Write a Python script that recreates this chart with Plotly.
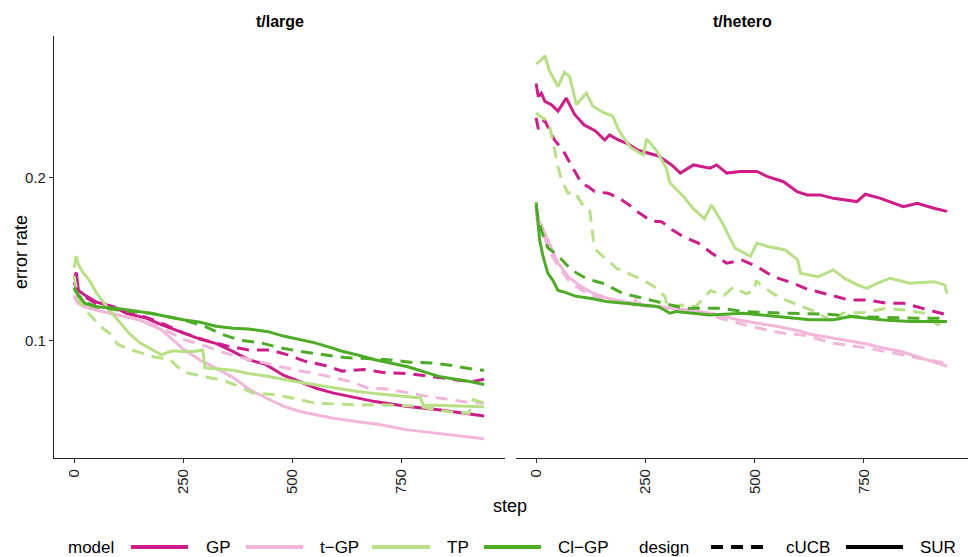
import plotly.graph_objects as go

W, H = 970, 557

# ---------------- data: error rate vs. step ----------------
# panel "t/large"
large_gp_sur_step = [0, 5, 10, 25, 50, 90, 120, 165, 200, 235, 270, 290, 325, 365, 400, 440, 480, 520, 555, 595, 650, 690, 760, 840, 940]
large_gp_sur_err = [0.138, 0.142, 0.131, 0.128, 0.124, 0.121, 0.117, 0.114, 0.110, 0.1065, 0.103, 0.101, 0.0985, 0.0935, 0.0885, 0.0855, 0.079, 0.0745, 0.071, 0.068, 0.065, 0.0628, 0.060, 0.0577, 0.054]

large_gp_cucb_step = [0, 10, 25, 50, 100, 150, 200, 250, 300, 350, 400, 450, 490, 530, 575, 615, 665, 715, 765, 810, 860, 910, 940]
large_gp_cucb_err = [0.136, 0.130, 0.127, 0.123, 0.119, 0.116, 0.111, 0.105, 0.1005, 0.097, 0.0945, 0.0945, 0.0915, 0.0875, 0.085, 0.0815, 0.0825, 0.0805, 0.080, 0.0785, 0.0765, 0.075, 0.0765]

large_tgp_sur_step = [0, 10, 25, 50, 100, 150, 200, 250, 290, 310, 365, 400, 440, 480, 520, 555, 595, 650, 700, 760, 840, 940]
large_tgp_sur_err = [0.127, 0.123, 0.121, 0.119, 0.116, 0.113, 0.107, 0.095, 0.088, 0.0855, 0.0775, 0.0705, 0.065, 0.060, 0.0566, 0.0546, 0.0526, 0.0505, 0.0487, 0.0456, 0.043, 0.040]

large_tgp_cucb_step = [0, 10, 25, 50, 100, 150, 200, 250, 300, 335, 380, 425, 470, 510, 555, 595, 635, 675, 715, 765, 810, 855, 905, 940]
large_tgp_cucb_err = [0.128, 0.124, 0.121, 0.119, 0.116, 0.113, 0.108, 0.101, 0.097, 0.0935, 0.090, 0.0873, 0.0843, 0.082, 0.080, 0.0777, 0.075, 0.071, 0.0706, 0.0683, 0.066, 0.0643, 0.0622, 0.062]

large_tp_sur_step = [0, 5, 10, 20, 30, 40, 50, 75, 100, 125, 150, 175, 200, 225, 250, 275, 295, 300, 325, 365, 400, 440, 520, 595, 650, 700, 760, 795, 800, 870, 940]
large_tp_sur_err = [0.145, 0.152, 0.147, 0.142, 0.139, 0.135, 0.130, 0.121, 0.113, 0.105, 0.099, 0.095, 0.0915, 0.094, 0.0935, 0.0935, 0.0945, 0.0835, 0.083, 0.082, 0.080, 0.0785, 0.0745, 0.0715, 0.069, 0.0675, 0.066, 0.065, 0.0607, 0.060, 0.0597]

large_tp_cucb_step = [0, 5, 10, 25, 40, 60, 85, 100, 125, 150, 180, 220, 250, 300, 340, 370, 410, 460, 500, 550, 600, 650, 700, 750, 790, 830, 860, 905, 915, 940]
large_tp_cucb_err = [0.140, 0.132, 0.126, 0.119, 0.115, 0.109, 0.104, 0.098, 0.095, 0.093, 0.0905, 0.0885, 0.081, 0.078, 0.076, 0.073, 0.068, 0.067, 0.065, 0.062, 0.0612, 0.0607, 0.061, 0.0607, 0.060, 0.0577, 0.0566, 0.0556, 0.064, 0.062]

large_clgp_sur_step = [0, 10, 25, 50, 100, 175, 250, 290, 325, 365, 400, 445, 480, 520, 550, 595, 610, 650, 690, 765, 840, 900, 940]
large_clgp_sur_err = [0.133, 0.128, 0.123, 0.121, 0.120, 0.117, 0.113, 0.1115, 0.109, 0.1078, 0.1074, 0.1057, 0.103, 0.1006, 0.099, 0.0955, 0.094, 0.0914, 0.0885, 0.0842, 0.078, 0.0755, 0.0733]

large_clgp_cucb_step = [0, 10, 25, 50, 100, 175, 250, 300, 340, 380, 430, 470, 520, 570, 620, 670, 720, 770, 820, 870, 915, 940]
large_clgp_cucb_err = [0.132, 0.128, 0.124, 0.121, 0.119, 0.117, 0.113, 0.109, 0.104, 0.1005, 0.0987, 0.096, 0.0935, 0.0915, 0.0898, 0.0893, 0.0885, 0.087, 0.0865, 0.0848, 0.0826, 0.082]

# panel "t/hetero"
hetero_gp_sur_step = [0, 5, 12, 20, 35, 50, 69, 88, 110, 135, 157, 168, 188, 210, 233, 256, 280, 310, 330, 360, 398, 413, 436, 467, 505, 528, 566, 597, 620, 650, 680, 734, 753, 788, 840, 872, 910, 940]
hetero_gp_sur_err = [0.258, 0.250, 0.252, 0.247, 0.245, 0.241, 0.249, 0.239, 0.2325, 0.229, 0.2233, 0.2264, 0.2233, 0.221, 0.217, 0.2151, 0.2135, 0.208, 0.203, 0.208, 0.206, 0.208, 0.203, 0.204, 0.204, 0.201, 0.1977, 0.1916, 0.1896, 0.1896, 0.1875, 0.1855, 0.190, 0.1875, 0.1824, 0.1845, 0.1814, 0.1795]

hetero_gp_cucb_step = [0, 5, 19, 42, 61, 84, 104, 119, 134, 165, 191, 218, 237, 264, 287, 312, 337, 371, 402, 436, 470, 505, 543, 589, 620, 673, 715, 757, 803, 841, 887, 940]
hetero_gp_cucb_err = [0.237, 0.230, 0.2356, 0.2233, 0.2172, 0.206, 0.1967, 0.1947, 0.1916, 0.1906, 0.1875, 0.1824, 0.1783, 0.1735, 0.1732, 0.168, 0.164, 0.160, 0.1538, 0.1477, 0.1497, 0.1456, 0.1394, 0.1354, 0.1318, 0.1282, 0.1252, 0.1252, 0.1231, 0.1231, 0.1196, 0.116]

hetero_tgp_sur_step = [0, 10, 20, 35, 50, 75, 100, 125, 165, 205, 250, 300, 350, 400, 470, 550, 605, 630, 680, 705, 760, 780, 835, 860, 910, 940]
hetero_tgp_sur_err = [0.178, 0.172, 0.166, 0.156, 0.148, 0.139, 0.134, 0.130, 0.126, 0.124, 0.122, 0.1205, 0.119, 0.117, 0.1125, 0.109, 0.106, 0.104, 0.1015, 0.1006, 0.098, 0.0965, 0.0935, 0.0914, 0.0873, 0.0845]

hetero_tgp_cucb_step = [0, 10, 20, 35, 50, 75, 100, 125, 165, 205, 225, 230, 240, 250, 300, 350, 400, 490, 565, 615, 680, 750, 815, 860, 935]
hetero_tgp_cucb_err = [0.176, 0.170, 0.163, 0.153, 0.146, 0.137, 0.132, 0.128, 0.125, 0.123, 0.122, 0.128, 0.122, 0.1215, 0.120, 0.118, 0.1155, 0.109, 0.1047, 0.1035, 0.0986, 0.096, 0.0926, 0.0904, 0.0865]

hetero_tp_sur_step = [0, 10, 20, 30, 40, 50, 65, 77, 92, 115, 130, 155, 175, 190, 215, 245, 253, 275, 298, 306, 336, 360, 385, 401, 425, 455, 490, 505, 530, 570, 598, 605, 645, 680, 705, 735, 757, 780, 810, 855, 910, 935, 940]
hetero_tp_sur_err = [0.270, 0.272, 0.275, 0.266, 0.261, 0.256, 0.265, 0.262, 0.245, 0.252, 0.244, 0.240, 0.238, 0.229, 0.219, 0.214, 0.224, 0.217, 0.206, 0.197, 0.189, 0.181, 0.175, 0.1834, 0.173, 0.157, 0.152, 0.160, 0.158, 0.1558, 0.1497, 0.1415, 0.1394, 0.1436, 0.1385, 0.1344, 0.1323, 0.1354, 0.1385, 0.1354, 0.1364, 0.1344, 0.129]

hetero_tp_cucb_step = [0, 8, 20, 31, 38, 50, 58, 73, 88, 100, 111, 123, 127, 131, 138, 160, 184, 210, 245, 276, 295, 300, 330, 365, 399, 430, 451, 480, 500, 503, 520, 555, 590, 630, 685, 700, 750, 800, 840, 890, 918, 940]
hetero_tp_cucb_err = [0.240, 0.238, 0.236, 0.2315, 0.223, 0.207, 0.199, 0.1906, 0.1916, 0.1865, 0.1814, 0.1795, 0.170, 0.162, 0.1555, 0.150, 0.1446, 0.1415, 0.1374, 0.1323, 0.127, 0.121, 0.122, 0.121, 0.131, 0.128, 0.133, 0.129, 0.131, 0.137, 0.133, 0.127, 0.123, 0.119, 0.111, 0.117, 0.1175, 0.120, 0.119, 0.117, 0.110, 0.112]

hetero_clgp_sur_step = [0, 3, 8, 16, 27, 38, 50, 65, 90, 126, 165, 203, 245, 280, 306, 320, 398, 474, 551, 604, 627, 680, 719, 795, 856, 940]
hetero_clgp_sur_err = [0.185, 0.176, 0.162, 0.1517, 0.1415, 0.1374, 0.131, 0.130, 0.1275, 0.126, 0.124, 0.1231, 0.1218, 0.121, 0.117, 0.118, 0.116, 0.117, 0.115, 0.1139, 0.113, 0.113, 0.115, 0.1129, 0.112, 0.112]

hetero_clgp_cucb_step = [0, 5, 13, 27, 48, 65, 81, 117, 150, 176, 198, 230, 260, 299, 340, 425, 474, 580, 630, 675, 725, 800, 870, 940]
hetero_clgp_cucb_err = [0.183, 0.175, 0.167, 0.157, 0.153, 0.148, 0.1435, 0.138, 0.1356, 0.1323, 0.1292, 0.1272, 0.1252, 0.123, 0.120, 0.120, 0.118, 0.117, 0.1165, 0.1163, 0.115, 0.1145, 0.114, 0.114]

panels = ["t/large", "t/hetero"]
models = ["GP", "t−GP", "TP", "Cl−GP"]
designs = ["cUCB", "SUR"]
x_ticks = [0, 250, 500, 750]
y_ticks = [0.1, 0.2]
y_tick_labels = ["0.1", "0.2"]

# ---------------- styling ----------------
FONT = "Liberation Sans, Arial, Helvetica, sans-serif"
model_colors = {"GP": "#D01C8B", "t−GP": "#F1B6DA", "TP": "#B8E186", "Cl−GP": "#4DAC26"}
design_dash = {"cUCB": "12px,8px", "SUR": "solid"}

series = {
    ("t/large", "GP", "cUCB"): (large_gp_cucb_step, large_gp_cucb_err),
    ("t/large", "GP", "SUR"): (large_gp_sur_step, large_gp_sur_err),
    ("t/large", "t−GP", "cUCB"): (large_tgp_cucb_step, large_tgp_cucb_err),
    ("t/large", "t−GP", "SUR"): (large_tgp_sur_step, large_tgp_sur_err),
    ("t/large", "TP", "cUCB"): (large_tp_cucb_step, large_tp_cucb_err),
    ("t/large", "TP", "SUR"): (large_tp_sur_step, large_tp_sur_err),
    ("t/large", "Cl−GP", "cUCB"): (large_clgp_cucb_step, large_clgp_cucb_err),
    ("t/large", "Cl−GP", "SUR"): (large_clgp_sur_step, large_clgp_sur_err),
    ("t/hetero", "GP", "cUCB"): (hetero_gp_cucb_step, hetero_gp_cucb_err),
    ("t/hetero", "GP", "SUR"): (hetero_gp_sur_step, hetero_gp_sur_err),
    ("t/hetero", "t−GP", "cUCB"): (hetero_tgp_cucb_step, hetero_tgp_cucb_err),
    ("t/hetero", "t−GP", "SUR"): (hetero_tgp_sur_step, hetero_tgp_sur_err),
    ("t/hetero", "TP", "cUCB"): (hetero_tp_cucb_step, hetero_tp_cucb_err),
    ("t/hetero", "TP", "SUR"): (hetero_tp_sur_step, hetero_tp_sur_err),
    ("t/hetero", "Cl−GP", "cUCB"): (hetero_clgp_cucb_step, hetero_clgp_cucb_err),
    ("t/hetero", "Cl−GP", "SUR"): (hetero_clgp_sur_step, hetero_clgp_sur_err),
}


def px(x):
    return x / W


def py(y):
    return 1 - y / H


def label(text, x, y, size, xanchor="center", angle=0):
    return dict(text=text, x=px(x), y=py(y), xref="paper", yref="paper",
                xanchor=xanchor, yanchor="middle", showarrow=False, textangle=angle,
                font=dict(size=size, family=FONT, color="black"))


fig = go.Figure()

axis_refs = {"t/large": ("x", "y"), "t/hetero": ("x2", "y2")}
for panel in panels:
    xr, yr = axis_refs[panel]
    for model in models:
        for design in designs:
            steps, errs = series[(panel, model, design)]
            fig.add_trace(go.Scatter(
                x=steps, y=errs, mode="lines", xaxis=xr, yaxis=yr,
                line=dict(color=model_colors[model], width=3, dash=design_dash[design]),
                showlegend=False, hoverinfo="skip",
            ))

x_range = [-46, 988]
y_range = [0.0282, 0.2871]
y_dom = [py(458), py(36)]
tick_font = dict(family=FONT, size=15, color="#222")

common_x = dict(
    range=x_range, tickmode="array", tickvals=x_ticks, tickangle=-90,
    showline=True, linecolor="#222", linewidth=1.1, ticks="outside",
    ticklen=4, tickcolor="#333", tickwidth=1.1, showgrid=False, zeroline=False,
    tickfont=tick_font,
)

fig.update_layout(
    width=W, height=H,
    margin=dict(l=0, r=0, t=0, b=0),
    paper_bgcolor="white", plot_bgcolor="white",
    showlegend=False,
    font=dict(family=FONT, color="black"),
    xaxis=dict(domain=[px(54), px(505)], anchor="y", **common_x),
    xaxis2=dict(domain=[px(516), px(968)], anchor="y2", **common_x),
    yaxis=dict(
        domain=y_dom, range=y_range, anchor="x", tickmode="array",
        tickvals=y_ticks, ticktext=y_tick_labels,
        showline=True, linecolor="#222", linewidth=1.1, ticks="outside",
        ticklen=4, tickcolor="#333", tickwidth=1.1, showgrid=False, zeroline=False,
        tickfont=tick_font,
    ),
    yaxis2=dict(
        domain=y_dom, range=y_range, anchor="x2", matches="y",
        showline=False, showticklabels=False, ticks="", showgrid=False, zeroline=False,
    ),
)

annotations = [
    label("<b>t/large</b>", 279.5, 22, 16),
    label("<b>t/hetero</b>", 742, 22, 16),
    label("step", 510, 506, 18),
    label("error rate", 21, 252, 18, angle=-90),
]

# legend, drawn along the bottom
LEG_Y = 547
LEG_SIZE = 17
shapes = []
annotations.append(label("model", 66, LEG_Y, LEG_SIZE, xanchor="left"))
model_keys = [(131, 188, 204), (246, 303, 318), (372, 430, 445), (484, 541, 556)]
for model, (x0, x1, tx) in zip(models, model_keys):
    shapes.append(dict(type="line", xref="paper", yref="paper", x0=px(x0), x1=px(x1),
                       y0=py(LEG_Y), y1=py(LEG_Y), line=dict(color=model_colors[model], width=4)))
    annotations.append(label(model, tx, LEG_Y, LEG_SIZE, xanchor="left"))

annotations.append(label("design", 637, LEG_Y, LEG_SIZE, xanchor="left"))
design_keys = [(711, 768, 784), (846, 903, 918)]
for design, (x0, x1, tx) in zip(designs, design_keys):
    shapes.append(dict(type="line", xref="paper", yref="paper", x0=px(x0), x1=px(x1),
                       y0=py(LEG_Y), y1=py(LEG_Y),
                       line=dict(color="black", width=4, dash=design_dash[design])))
    annotations.append(label(design, tx, LEG_Y, LEG_SIZE, xanchor="left"))

fig.update_layout(annotations=annotations, shapes=shapes)
fig.write_html("out.html")
